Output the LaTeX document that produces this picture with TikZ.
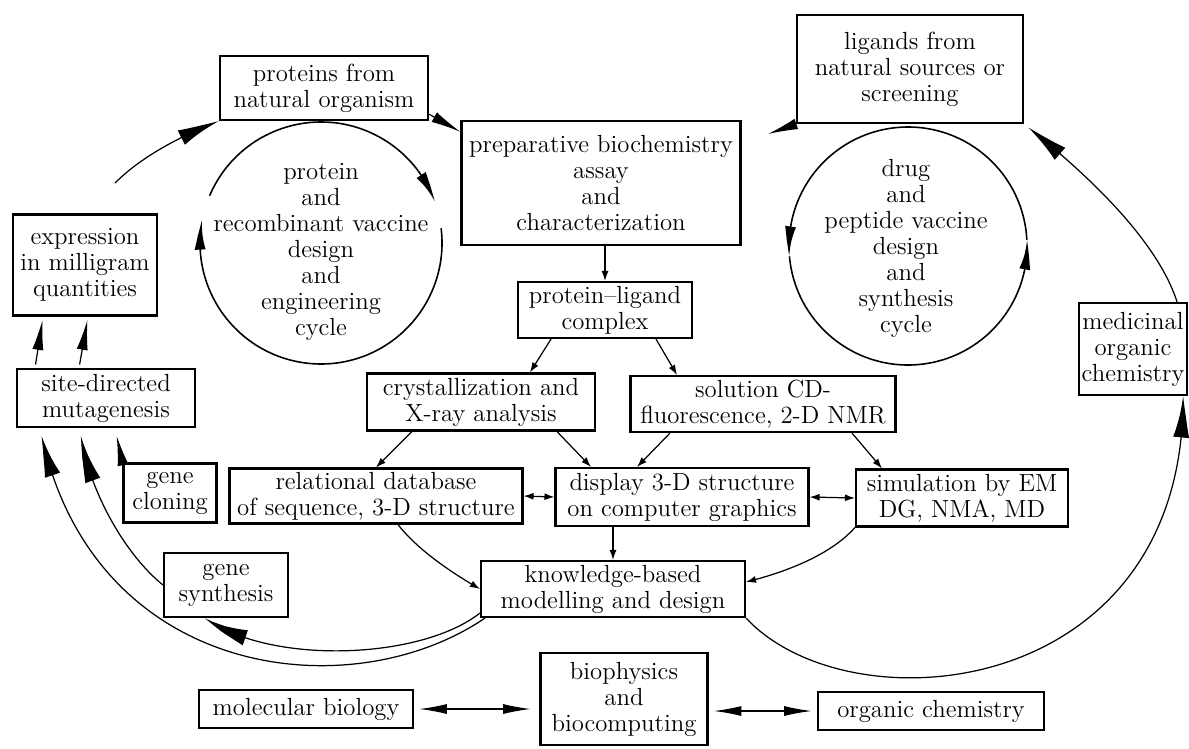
\documentclass[tikz,border=0pt]{standalone}
\usetikzlibrary{arrows.meta,bending}

\begin{document}
\begin{tikzpicture}[x=0.02cm,y=-0.02cm,line width=0.7pt,
  font=\fontsize{14.1}{14.8}\selectfont,
  panel/.style={draw,line width=1.2pt,align=center,inner sep=1pt},
  cyctext/.style={align=center},
  sm/.style={-{Latex[length=0.2cm,width=0.14cm]}},
  md/.style={-{Latex[length=0.6cm,width=0.22cm,bend]}},
  bg/.style={-{Latex[length=0.85cm,width=0.32cm,bend]}},
  smboth/.style={{Latex[length=0.2cm,width=0.14cm]}-{Latex[length=0.2cm,width=0.14cm]}},
  mdboth/.style={{Latex[length=0.55cm,width=0.2cm]}-{Latex[length=0.55cm,width=0.2cm]}}]
\useasboundingbox (0,0) rectangle (1189,748);
% ---------- one framed box ----------
% #1 = name, #2 = centre (px), #3 = width, #4 = height, #5 = text
\newcommand{\panel}[5]{%
  \node[panel,minimum width=#3*0.02cm,minimum height=#4*0.02cm] (#1) at (#2) {#5};
}
% ---------- boxes ----------
\panel{prot}{324,88}{208}{64}{proteins from\\natural organism}
\panel{prep}{601,183}{279}{124}{preparative biochemistry\\assay\\and\\characterization}
\panel{lig}{910,69}{226}{108}{ligands from\\natural sources or\\screening}
\panel{expr}{85,265}{144}{101}{expression\\in milligram\\quantities}
\panel{cplx}{605,310}{174}{56}{protein--ligand\\complex}
\panel{site}{106,398}{178}{58}{site-directed\\mutagenesis}
\panel{cryst}{481,402}{228}{57}{crystallization and\\X-ray analysis}
\panel{soln}{763,404}{265}{56}{solution CD-\\fluorescence, 2-D NMR}
\panel{clon}{170,493}{93}{59}{gene\\cloning}
\panel{reldb}{376,496}{293}{55}{relational database\\of sequence, 3-D structure}
\panel{disp}{682,497}{253}{58}{display 3-D structure\\on computer graphics}
\panel{simu}{962,498}{212}{57}{simulation by EM\\DG, NMA, MD}
\panel{synth}{226,585}{124}{64}{gene\\synthesis}
\panel{know}{613,589}{264}{56}{knowledge-based\\modelling and design}
\panel{med}{1133,349}{108}{92}{medicinal\\organic\\chemistry}
\panel{molb}{306,709}{214}{38}{molecular biology}
\panel{biop}{624,699}{167}{92}{biophysics\\and\\biocomputing}
\panel{orgc}{931,711}{226}{38}{organic chemistry}
% ---------- the two design cycles ----------
\coordinate (lc) at (321,243);
\coordinate (rc) at (908,246);
\node[cyctext] (pcyc) at (321,252) {protein\\and\\recombinant vaccine\\design\\and\\engineering\\cycle};
\node[cyctext] (dcyc) at (906,248) {drug\\and\\peptide vaccine\\design\\and\\synthesis\\cycle};
\draw[md,line width=0.9pt] (lc) ++(-157:121) arc[start angle=-157,end angle=-20,radius=121];
\draw[md,line width=0.9pt] (lc) ++(-7:121) arc[start angle=-7,end angle=191,radius=121];
\draw[md,line width=0.9pt] (rc) ++(-3:119) arc[start angle=-3,end angle=-185,radius=119];
\draw[md,line width=0.9pt] (rc) ++(-185:119) arc[start angle=-185,end angle=-363,radius=119];
% ---------- upper connectors ----------
\coordinate (loop) at (115,183);
\coordinate (ligtip) at (768,134);
\draw[bg] (loop) .. controls (138,160) and (173,139) .. (prot.south west);
\draw[md] (prot.-14) -- (prep.160);
\draw[md] (lig.south west) -- (ligtip);
\draw[bg,shorten >=3pt] ([xshift=-0.22cm]med.north east) .. controls (1161,252) and (1110,192) .. (lig.south east);
% ---------- central column ----------
\draw[sm] (cplx.north |- prep.south) -- (cplx.north);
\draw[sm] ([xshift=-1.08cm]cplx.south) -- ([xshift=0.98cm]cryst.north);
\draw[sm] ([xshift=1.02cm]cplx.south) -- ([xshift=-1.72cm]soln.north);
\draw[sm] ([xshift=-1.38cm]cryst.south) -- (reldb.north);
\draw[sm] ([xshift=1.52cm]cryst.south) -- ([xshift=-1.82cm]disp.north);
\draw[sm] ([xshift=-1.86cm]soln.south) -- ([xshift=-0.9cm]disp.north);
\draw[sm] ([xshift=1.78cm]soln.south) -- ([xshift=-1.6cm]simu.north);
\draw[smboth] (reldb.east) -- (disp.west);
\draw[smboth] (disp.east) -- (simu.west);
\draw[sm] (know.north |- disp.south) -- (know.north);
\draw[sm] ([xshift=0.44cm]reldb.south) .. controls (413,544) and (440,566) .. (know.west);
\draw[sm] (simu.south west) .. controls (835,550) and (798,569) .. ([yshift=0.14cm]know.east);
% ---------- back to the protein side ----------
\draw[bg] ([yshift=0.1cm]know.south west) .. controls (420,660) and (270,665) .. ([xshift=-0.42cm]synth.south);
\draw[bg,shorten >=4.5pt] ([xshift=0.1cm]know.south west) .. controls (350,710) and (90,680) .. ([xshift=-1.32cm]site.south);
\draw[bg,shorten >=4.5pt] (synth.west) .. controls (120,550) and (85,480) .. ([xshift=-0.52cm]site.south);
\draw[md,shorten >=4.5pt] (clon.north west) -- ([xshift=0.18cm]site.south);
\draw[md,shorten <=2pt,shorten >=2pt] ([xshift=-1.42cm]site.north) -- ([xshift=-0.84cm]expr.south);
\draw[md,shorten <=2pt,shorten >=2pt] ([xshift=-0.54cm]site.north) -- ([xshift=0.06cm]expr.south);
% ---------- over to medicinal chemistry ----------
\draw[bg] (know.south east) .. controls (850,730) and (1185,700) .. ([xshift=-0.1cm]med.south east);
% ---------- bottom row ----------
\draw[mdboth,shorten <=3pt,shorten >=5pt] (molb.east) -- (molb.east -| biop.west);
\draw[mdboth,shorten <=3pt,shorten >=3pt] (biop.east |- orgc.west) -- (orgc.west);
\end{tikzpicture}
\end{document}
